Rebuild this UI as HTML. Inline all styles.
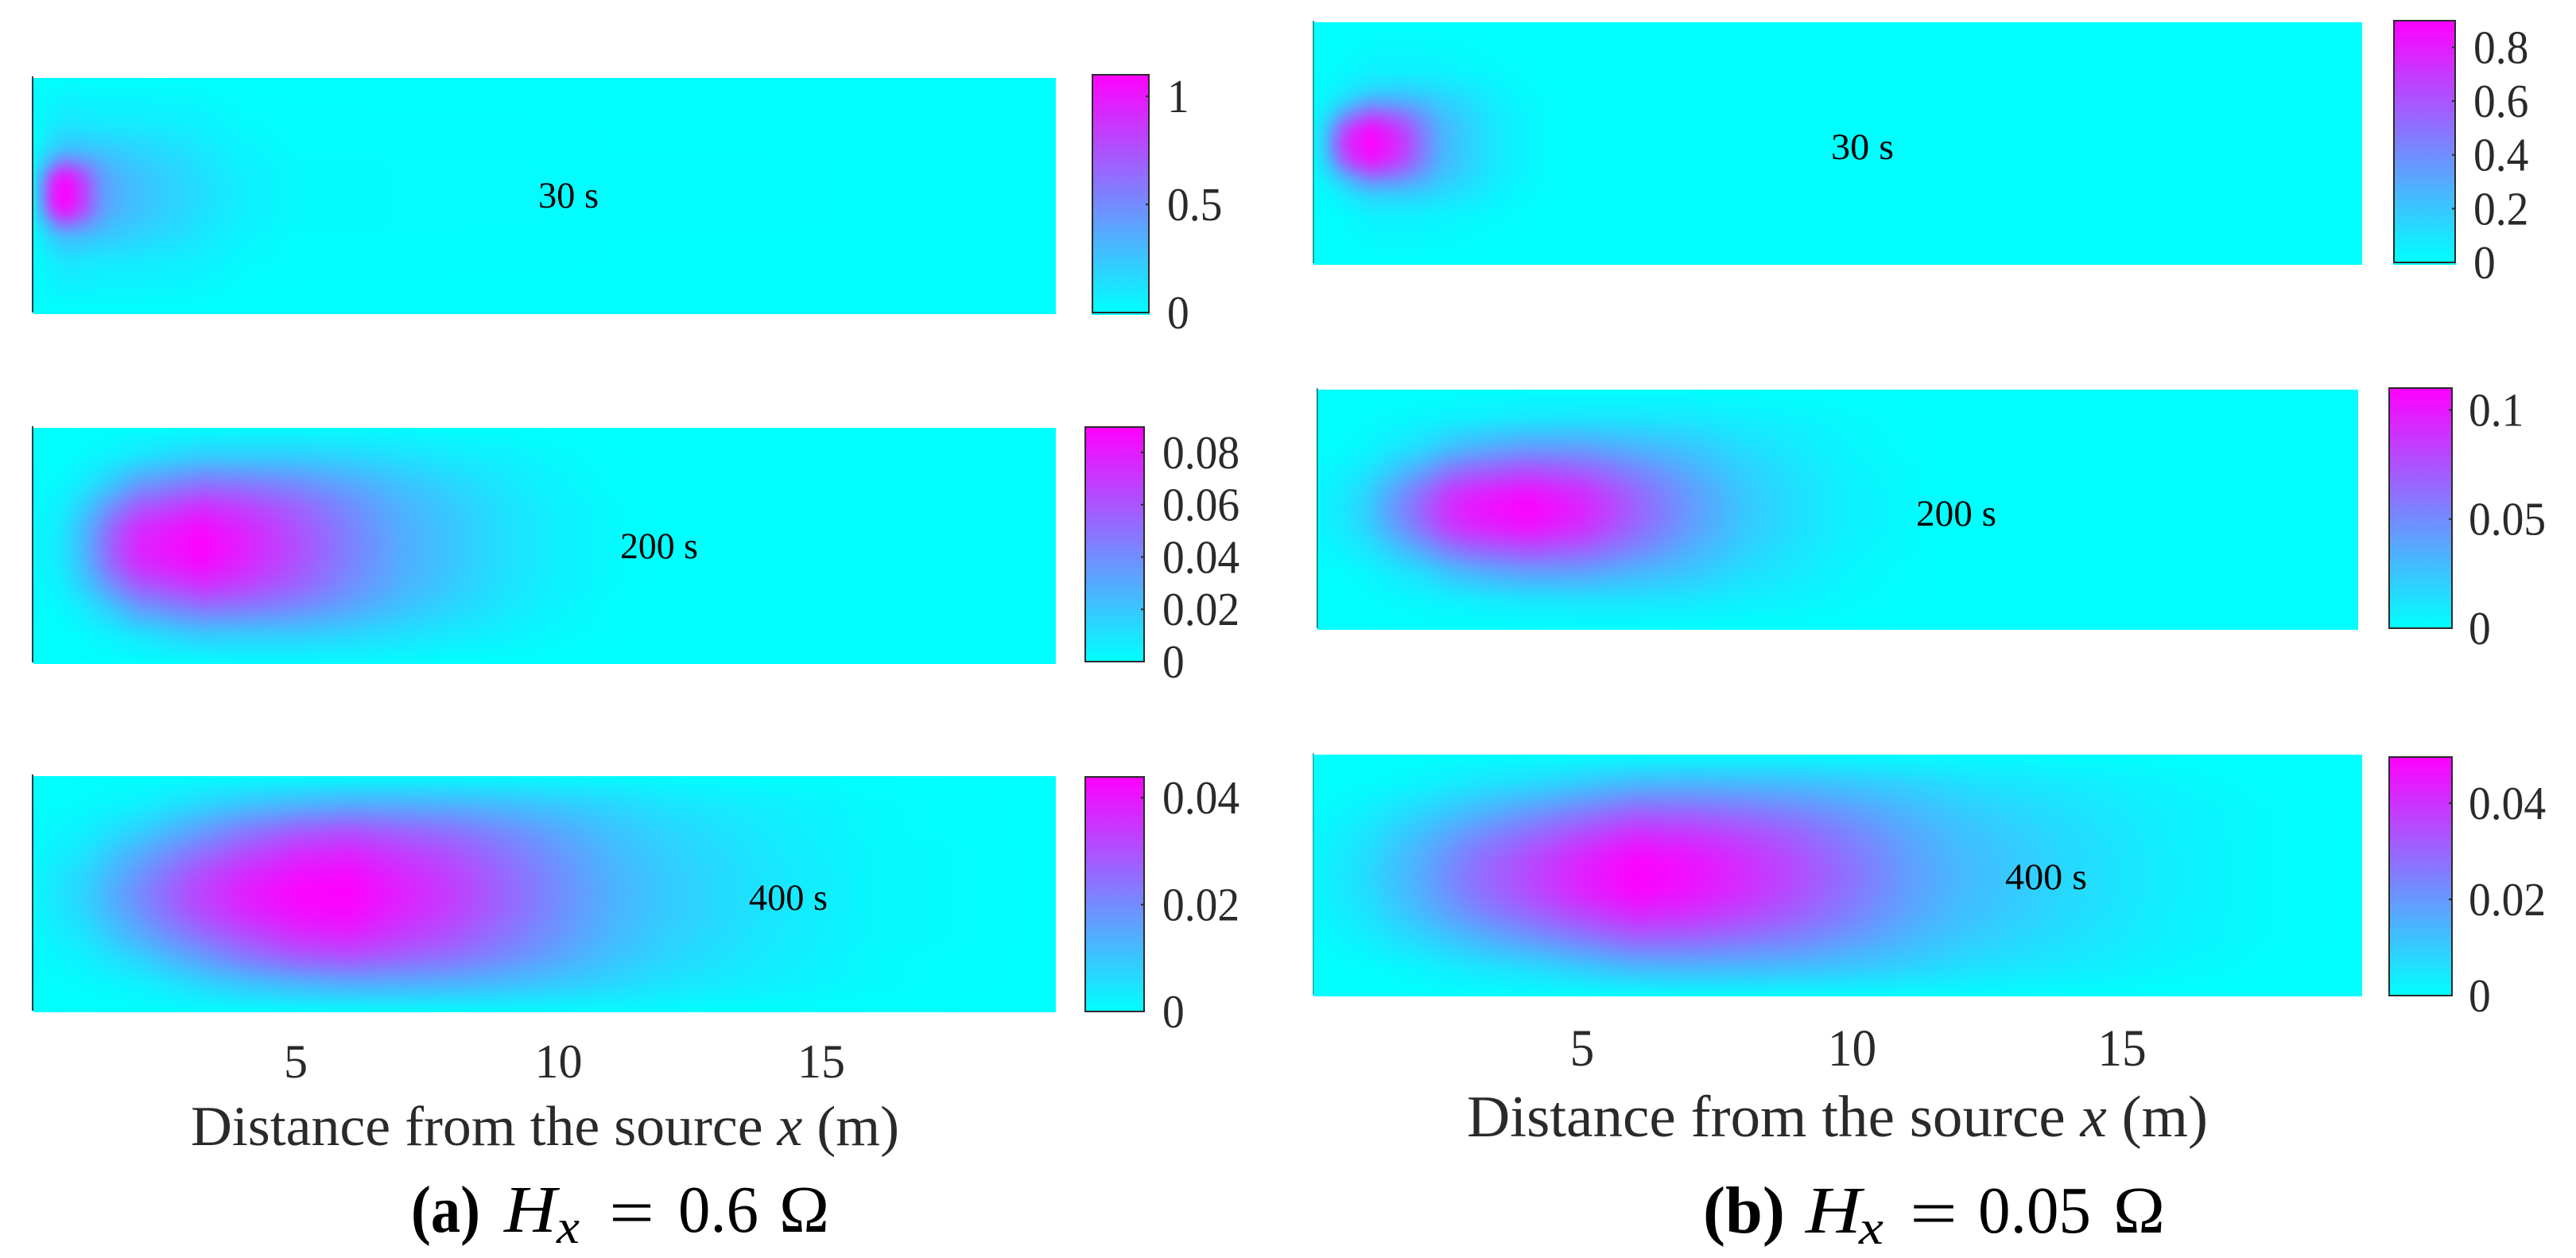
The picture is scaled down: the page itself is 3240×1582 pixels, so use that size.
<!DOCTYPE html>
<html>
<head>
<meta charset="utf-8">
<title>Concentration maps for two values of Hx</title>
<style>
html,body{margin:0;padding:0;background:#fff;width:3240px;height:1582px;overflow:hidden}
svg{display:block}
text{font-family:"Liberation Serif","Times New Roman",serif}
</style>
</head>
<body>
<svg id="figure" xmlns="http://www.w3.org/2000/svg" width="3240" height="1582" viewBox="0 0 3240 1582">
  <defs>
    <linearGradient id="cool-ramp" x1="0" y1="1" x2="0" y2="0">
      <stop offset="0" stop-color="#00ffff"/>
      <stop offset="1" stop-color="#ff00ff"/>
    </linearGradient>
    <filter id="smooth-a" x="-0.1" y="-0.1" width="1.2" height="1.2" color-interpolation-filters="sRGB"><feGaussianBlur stdDeviation="5"/></filter>
    <filter id="smooth-b" x="-0.1" y="-0.1" width="1.2" height="1.2" color-interpolation-filters="sRGB"><feGaussianBlur stdDeviation="4"/></filter>
  </defs>
  <g id="panels"></g>

  <g font-size="47" fill="#000">
    <text x="677" y="261" textLength="76" lengthAdjust="spacingAndGlyphs">30 s</text>
    <text x="780" y="702" textLength="98" lengthAdjust="spacingAndGlyphs">200 s</text>
    <text x="942" y="1144" textLength="99" lengthAdjust="spacingAndGlyphs">400 s</text>
    <text x="2303" y="200" textLength="79" lengthAdjust="spacingAndGlyphs">30 s</text>
    <text x="2410" y="661" textLength="101" lengthAdjust="spacingAndGlyphs">200 s</text>
    <text x="2522" y="1118" textLength="103" lengthAdjust="spacingAndGlyphs">400 s</text>
  </g>

  <text x="240" y="1440" font-size="71" fill="#2a2a2a" textLength="891" lengthAdjust="spacingAndGlyphs">Distance from the source <tspan font-style="italic">x</tspan> (m)</text>
  <text x="1845" y="1429" font-size="74" fill="#2a2a2a" textLength="932" lengthAdjust="spacingAndGlyphs">Distance from the source <tspan font-style="italic">x</tspan> (m)</text>

  <g fill="#000" font-size="84">
    <text x="517" y="1549" font-weight="bold" textLength="87" lengthAdjust="spacingAndGlyphs">(a)</text>
    <text x="634" y="1549" font-style="italic" textLength="66" lengthAdjust="spacingAndGlyphs">H</text>
    <text x="700" y="1563" font-style="italic" font-size="60" textLength="29" lengthAdjust="spacingAndGlyphs">x</text>
    <text x="766" y="1553" textLength="57" lengthAdjust="spacingAndGlyphs">=</text>
    <text x="853" y="1549" textLength="101" lengthAdjust="spacingAndGlyphs">0.6</text>
    <text x="980" y="1549" textLength="63" lengthAdjust="spacingAndGlyphs">Ω</text>
  </g>
  <g fill="#000" font-size="84">
    <text x="2142" y="1550" font-weight="bold" textLength="103" lengthAdjust="spacingAndGlyphs">(b)</text>
    <text x="2271" y="1550" font-style="italic" textLength="70" lengthAdjust="spacingAndGlyphs">H</text>
    <text x="2338" y="1564" font-style="italic" font-size="60" textLength="31" lengthAdjust="spacingAndGlyphs">x</text>
    <text x="2402" y="1554" textLength="60" lengthAdjust="spacingAndGlyphs">=</text>
    <text x="2488" y="1550" textLength="142" lengthAdjust="spacingAndGlyphs">0.05</text>
    <text x="2658" y="1550" textLength="65" lengthAdjust="spacingAndGlyphs">Ω</text>
  </g>
</svg>

<script>
// Shared tick values along the distance axis (metres)
const xTickValues = [5, 10, 15];
const xTickLabels = ['5', '10', '15'];

// Colorbar ranges and tick labels
const rangeA30 = 1.1;    const cbTicksA30 = [0, 0.5, 1];                     const cbLabelsA30 = ['0', '0.5', '1'];
const rangeA200 = 0.0897; const cbTicksA200 = [0, 0.02, 0.04, 0.06, 0.08];   const cbLabelsA200 = ['0', '0.02', '0.04', '0.06', '0.08'];
const rangeA400 = 0.0439; const cbTicksA400 = [0, 0.02, 0.04];               const cbLabelsA400 = ['0', '0.02', '0.04'];
const rangeB30 = 0.899;  const cbTicksB30 = [0, 0.2, 0.4, 0.6, 0.8];         const cbLabelsB30 = ['0', '0.2', '0.4', '0.6', '0.8'];
const rangeB200 = 0.11;  const cbTicksB200 = [0, 0.05, 0.1];                 const cbLabelsB200 = ['0', '0.05', '0.1'];
const rangeB400 = 0.0496; const cbTicksB400 = [0, 0.02, 0.04];               const cbLabelsB400 = ['0', '0.02', '0.04'];

// Grid categories: distance along the channel (m) and cross-channel fraction (0 top, 1 bottom)
const xMetersA30 = [0,.1,.2,.33,.48,.63,.84,1,1.15,1.3,1.5,1.9,2.4,2.9,3.3,4,5,19.5];
const crossA30 = [0,.2,.3,.36,.41,.45,.49,.53,.57,.62,.68,.78,1];
const xMetersA200 = [0,.5,1,1.5,2,3.2,4,5,6,7,8,9,10,11,12,19.5];
const crossA200 = [0,.12,.24,.33,.42,.5,.58,.67,.76,.88,1];
const xMetersA400 = [0,1,2,3,4,5,6,7,8,9,10,11,12,13,14,16,19.5];
const crossA400 = [0,.12,.24,.33,.42,.5,.58,.67,.76,.88,1];
const xMetersB30 = [0,.2,.4,.6,.8,1.1,1.4,1.7,2,2.4,2.9,3.4,3.9,4.4,5,19.5];
const crossB30 = [0,.2,.28,.34,.39,.44,.5,.56,.61,.66,.72,.8,1];
const xMetersB200 = [0,.5,1,1.5,2,2.5,3,4,5,6,7,8,9,10,11,12,19.5];
const crossB200 = [0,.12,.24,.33,.42,.5,.58,.67,.76,.88,1];
const xMetersB400 = [0,1,2,3,4,5,6,7,8,9,10,11,12,13,14,16,17.5,19.5];
const crossB400 = [0,.12,.24,.33,.42,.5,.58,.67,.76,.88,1];

// Concentration, in percent of each panel's colorbar range
const concA30 = [
[0,0,0,0,0,0,0,0,0,0,0,0,0,0,0,0,0,0],
[1,2,4,6,8,10,10,9,9,8,8,8,7,6,5,2,1,0],
[2,6,10,16,21,24,24,24,22,21,20,17,14,11,8,4,1,0],
[5,14,20,35,48,55,49,43,37,32,26,21,17,14,10,5,2,0],
[8,24,34,64,81,88,75,63,50,39,31,25,19,15,11,6,2,0],
[10,29,43,75,92,98,83,71,54,41,33,26,20,16,12,6,2,0],
[10,30,45,78,95,100,85,72,55,42,33,26,20,16,12,6,2,0],
[10,29,43,75,92,98,83,71,54,41,33,26,20,16,12,6,2,0],
[8,24,34,64,81,88,75,63,50,39,31,25,19,15,11,6,2,0],
[5,14,20,35,48,55,49,43,37,32,26,21,17,14,10,5,2,0],
[2,6,10,16,21,24,24,24,22,21,20,17,14,11,8,4,1,0],
[1,2,4,6,8,10,10,9,9,8,8,8,7,6,5,2,1,0],
[0,0,0,0,0,0,0,0,0,0,0,0,0,0,0,0,0,0]
];
const concA200 = [
[0,0,0,0,0,0,1,1,1,1,0,0,0,0,0,0],
[0,0,2,5,10,20,19,19,16,12,8,5,2,1,0,0],
[1,2,9,22,39,55,53,46,35,24,16,9,4,1,0,0],
[2,5,20,43,63,81,74,61,45,30,20,11,5,2,0,0],
[3,7,28,59,82,96,85,68,49,32,22,12,6,2,0,0],
[3,8,30,63,86,100,88,70,50,33,22,12,6,2,0,0],
[3,7,28,59,82,96,85,68,49,32,22,12,6,2,0,0],
[2,5,20,43,63,81,74,61,45,30,20,11,5,2,0,0],
[1,2,9,22,39,55,53,46,35,24,16,9,4,1,0,0],
[0,0,2,5,10,20,19,19,16,12,8,5,2,1,0,0],
[0,0,0,0,0,0,1,1,1,1,0,0,0,0,0,0]
];
const concA400 = [
[0,0,0,0,0,0,0,1,1,1,1,1,1,0,0,0,0],
[0,2,5,14,23,29,33,32,30,26,21,16,11,8,6,2,0],
[1,6,19,36,53,65,70,63,56,46,35,24,17,12,8,2,0],
[2,11,32,53,70,83,87,77,68,54,41,28,19,14,9,3,0],
[3,16,41,66,84,94,97,85,74,59,44,30,21,15,10,3,0],
[3,18,45,70,88,98,100,88,76,60,45,31,21,15,10,3,0],
[3,16,41,66,84,94,97,85,74,59,44,30,21,15,10,3,0],
[2,11,32,53,70,83,87,77,68,54,41,28,19,14,9,3,0],
[1,6,19,36,53,65,70,63,56,46,35,24,17,12,8,2,0],
[0,2,5,14,23,29,33,32,30,26,21,16,11,8,6,2,0],
[0,0,0,0,0,0,0,1,1,1,1,1,1,0,0,0,0]
];
const concB30 = [
[0,0,0,0,0,0,0,0,0,0,0,0,0,0,0,0],
[0,0,1,2,3,5,5,5,5,4,3,2,1,0,0,0],
[1,2,4,7,11,16,17,18,16,13,9,5,2,1,0,0],
[2,5,12,21,31,42,40,36,30,20,14,7,3,1,0,0],
[3,10,26,44,58,72,66,57,43,26,16,8,4,1,0,0],
[5,15,42,68,83,94,85,72,52,29,18,9,4,1,0,0],
[5,18,50,78,90,100,90,78,55,30,18,9,4,1,0,0],
[5,15,42,68,83,94,85,72,52,29,18,9,4,1,0,0],
[3,10,26,44,58,72,66,57,43,26,16,8,4,1,0,0],
[2,5,12,21,31,42,40,36,30,20,14,7,3,1,0,0],
[1,2,4,7,11,16,17,18,16,13,9,5,2,1,0,0],
[0,0,1,2,3,5,5,5,5,4,3,2,1,0,0,0],
[0,0,0,0,0,0,0,0,0,0,0,0,0,0,0,0]
];
const concB200 = [
[0,0,0,0,0,0,0,0,0,0,0,0,0,0,0,0,0],
[0,0,1,2,3,5,6,9,10,10,9,6,4,2,1,0,0],
[1,1,3,8,13,23,30,38,37,29,22,13,8,3,1,0,0],
[2,4,9,20,33,49,58,67,61,46,31,18,10,4,2,0,0],
[3,7,16,35,53,74,84,92,81,58,38,21,12,5,2,0,0],
[3,8,19,40,60,82,92,100,87,62,40,22,12,5,2,0,0],
[3,7,16,35,53,74,84,92,81,58,38,21,12,5,2,0,0],
[2,4,9,20,33,49,58,67,61,46,31,18,10,4,2,0,0],
[1,1,3,8,13,23,30,38,37,29,22,13,8,3,1,0,0],
[0,0,1,2,3,5,6,9,10,10,9,6,4,2,1,0,0],
[0,0,0,0,0,0,0,0,0,0,0,0,0,0,0,0,0]
];
const concB400 = [
[0,0,0,0,0,0,0,1,1,1,1,1,1,1,0,0,0,0],
[0,1,4,10,14,21,28,29,28,26,22,18,13,10,8,3,1,0],
[1,6,16,28,40,51,62,60,55,48,39,29,21,16,12,5,2,0],
[2,10,25,43,57,71,83,79,71,61,48,35,25,19,14,5,2,0],
[3,13,31,53,69,85,97,91,81,68,53,38,27,21,15,6,2,0],
[3,14,33,56,72,88,100,94,83,70,55,39,28,21,15,6,2,0],
[3,13,31,53,69,85,97,91,81,68,53,38,27,21,15,6,2,0],
[2,10,25,43,57,71,83,79,71,61,48,35,25,19,14,5,2,0],
[1,6,16,28,40,51,62,60,55,48,39,29,21,16,12,5,2,0],
[0,1,4,10,14,21,28,29,28,26,22,18,13,10,8,3,1,0],
[0,0,0,0,0,0,0,1,1,1,1,1,1,1,0,0,0,0]
];

const NS = 'http://www.w3.org/2000/svg';
const root = document.getElementById('panels');

function mk(tag, parent, attrs) {
  const el = document.createElementNS(NS, tag);
  for (const k in attrs) el.setAttribute(k, attrs[k]);
  parent.appendChild(el);
  return el;
}

function locate(nodes, v) {
  let i = 0;
  while (i < nodes.length - 2 && nodes[i + 1] < v) i++;
  const span = nodes[i + 1] - nodes[i];
  const f = Math.max(0, Math.min(1, (v - nodes[i]) / span));
  return [i, f];
}

function fieldAt(p, m, c) {
  const [i, fx] = locate(p.xs, m);
  const [j, fy] = locate(p.ys, c);
  const a = p.z[j][i], b = p.z[j][i + 1], d = p.z[j + 1][i], e = p.z[j + 1][i + 1];
  return (a * (1 - fx) + b * fx) * (1 - fy) + (d * (1 - fx) + e * fx) * fy;
}

function coolColor(t) {
  const u = Math.max(0, Math.min(1, t));
  return 'rgb(' + Math.round(255 * u) + ',' + Math.round(255 * (1 - u)) + ',255)';
}

function drawPanel(p) {
  const xScale = m => p.xOrigin + m * p.pxPerM;
  const xInvert = px => (px - p.xOrigin) / p.pxPerM;
  const yInvert = py => (py - p.top) / (p.bottom - p.top);
  const cbScale = v => p.cbBottom - (v / p.range) * (p.cbBottom - p.cbTop);

  const g = mk('g', root, {});
  
  

  const clip = mk('clipPath', g, { id: 'clip-' + p.id });
  mk('rect', clip, { x: p.left, y: p.top, width: p.right - p.left, height: p.bottom - p.top });

  const holder = mk('g', g, { 'clip-path': 'url(#clip-' + p.id + ')' });
  const base = mk('rect', holder, { x: p.left, y: p.top, width: p.right - p.left, height: p.bottom - p.top, fill: '#00ffff' });
  
  

  const cells = mk('g', holder, { filter: 'url(#' + p.filter + ')', 'shape-rendering': 'crispEdges' });
  
  
  for (let py = p.top; py < p.bottom; py += p.tileH) {
    for (let px = p.left; px < p.right; px += p.tileW) {
      const v = fieldAt(p, xInvert(px + p.tileW / 2), yInvert(py + p.tileH / 2));
      if (v < 0.4) continue;
      const cell = mk('rect', cells, { x: px, y: py, width: p.tileW, height: p.tileH, fill: coolColor(v / 100) });
      
      
    }
  }

  const axis = mk('rect', g, { x: p.axisX, y: p.top - 2, width: p.axisW, height: p.bottom - p.top, fill: p.axisColor });
  
  

  // Colorbar
  if (p.cyanStrip) {
    const strip = mk('rect', g, { x: p.cbLeft - 1, y: p.cbBottom, width: p.cbRight - p.cbLeft + 2, height: 3, fill: '#00ffff' });
    
    
  }
  const bar = mk('rect', g, { x: p.cbLeft, y: p.cbTop, width: p.cbRight - p.cbLeft, height: p.cbBottom - p.cbTop, fill: 'url(#cool-ramp)', stroke: '#2b2b2b', 'stroke-width': 2 });
  
  

  p.ticks.forEach((v, i) => {
    const y = cbScale(v);
    if (v > 0) {
      const tick = mk('line', g, { x1: p.cbRight - 4, x2: p.cbRight, y1: y, y2: y, stroke: '#2b2b2b', 'stroke-width': 2 });
      
      
    }
    const label = mk('text', g, { transform: 'translate(' + p.cbLabelX + ',' + (y + 20) + ') scale(0.94,1)', 'font-size': 59, fill: '#2a2a2a' });
    label.textContent = p.labels[i];
    
    
  });

  // Distance axis tick labels sit below the bottom panel of each column
  if (p.xTickBaseline) {
    xTickValues.forEach((m, i) => {
      const label = mk('text', g, {
        transform: 'translate(' + xScale(m) + ',' + p.xTickBaseline + ') scale(' + p.xTickSx + ',1)',
        'font-size': p.xTickSize, fill: '#2a2a2a', 'text-anchor': 'middle'
      });
      label.textContent = xTickLabels[i];
      
      
    });
  }
}

const colA = { xOrigin: 41.5, pxPerM: 66.1 };
const colB = { xOrigin: 1650.5, pxPerM: 67.9 };

drawPanel(Object.assign({}, colA, { id: 'a-30s', xs: xMetersA30, ys: crossA30, z: concA30, range: rangeA30, ticks: cbTicksA30, labels: cbLabelsA30,
  left: 42, right: 1328, top: 98, bottom: 395, tileW: 4, tileH: 6, filter: 'smooth-b',
  axisX: 40, axisW: 2, axisColor: '#1f3d45',
  cbLeft: 1374, cbRight: 1445, cbTop: 94, cbBottom: 393, cbLabelX: 1468, cyanStrip: true }));
drawPanel(Object.assign({}, colA, { id: 'a-200s', xs: xMetersA200, ys: crossA200, z: concA200, range: rangeA200, ticks: cbTicksA200, labels: cbLabelsA200,
  left: 42, right: 1328, top: 538, bottom: 835, tileW: 8, tileH: 8, filter: 'smooth-a',
  axisX: 40, axisW: 2, axisColor: '#1f3d45',
  cbLeft: 1365, cbRight: 1439, cbTop: 537, cbBottom: 832, cbLabelX: 1462 }));
drawPanel(Object.assign({}, colA, { id: 'a-400s', xs: xMetersA400, ys: crossA400, z: concA400, range: rangeA400, ticks: cbTicksA400, labels: cbLabelsA400,
  left: 42, right: 1328, top: 976, bottom: 1273, tileW: 8, tileH: 8, filter: 'smooth-a',
  axisX: 40, axisW: 2, axisColor: '#1f3d45',
  cbLeft: 1365, cbRight: 1439, cbTop: 977, cbBottom: 1272, cbLabelX: 1462,
  xTickBaseline: 1355, xTickSize: 60, xTickSx: 1 }));
drawPanel(Object.assign({}, colB, { id: 'b-30s', xs: xMetersB30, ys: crossB30, z: concB30, range: rangeB30, ticks: cbTicksB30, labels: cbLabelsB30,
  left: 1652, right: 2971, top: 28, bottom: 333, tileW: 4, tileH: 6, filter: 'smooth-b',
  axisX: 1651, axisW: 2, axisColor: '#1fa0a0',
  cbLeft: 3011, cbRight: 3088, cbTop: 26, cbBottom: 330, cbLabelX: 3111, cyanStrip: true }));
drawPanel(Object.assign({}, colB, { id: 'b-200s', xs: xMetersB200, ys: crossB200, z: concB200, range: rangeB200, ticks: cbTicksB200, labels: cbLabelsB200,
  left: 1657, right: 2966, top: 490, bottom: 792, tileW: 8, tileH: 8, filter: 'smooth-a',
  axisX: 1656, axisW: 1.5, axisColor: '#0c6a6a',
  cbLeft: 3005, cbRight: 3084, cbTop: 488, cbBottom: 790, cbLabelX: 3105 }));
drawPanel(Object.assign({}, colB, { id: 'b-400s', xs: xMetersB400, ys: crossB400, z: concB400, range: rangeB400, ticks: cbTicksB400, labels: cbLabelsB400,
  left: 1652, right: 2971, top: 949, bottom: 1253, tileW: 8, tileH: 8, filter: 'smooth-a',
  axisX: 1651, axisW: 1.5, axisColor: '#22aaaa',
  cbLeft: 3005, cbRight: 3084, cbTop: 952, cbBottom: 1252, cbLabelX: 3105,
  xTickBaseline: 1340, xTickSize: 66, xTickSx: 0.93 }));
</script>
</body>
</html>
